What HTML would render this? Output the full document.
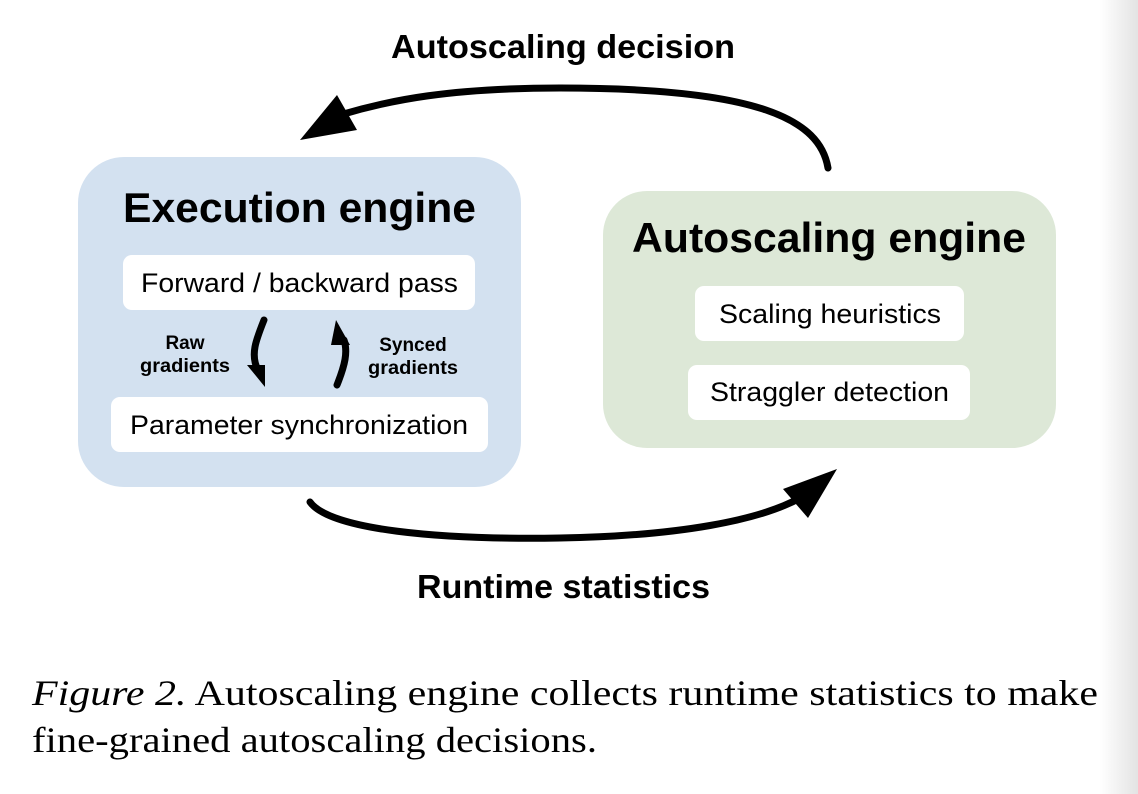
<!DOCTYPE html>
<html><head><style>
html,body{margin:0;padding:0;width:1138px;height:794px;overflow:hidden;background:#fff}
</style></head><body>
<svg width="1138" height="794" xmlns="http://www.w3.org/2000/svg" style="position:absolute;left:0;top:0">
<defs><linearGradient id="g" x1="0" x2="1"><stop offset="0" stop-color="#fff"/><stop offset="1" stop-color="#e3e3e3"/></linearGradient></defs>
<rect x="1100" y="0" width="38" height="794" fill="url(#g)"/>
<rect x="78" y="157" width="443" height="330" rx="46" fill="#d3e1f0"/>
<rect x="123" y="255" width="352" height="55" rx="9" fill="#fff"/>
<rect x="111" y="397" width="377" height="55" rx="9" fill="#fff"/>
<rect x="603" y="191" width="453" height="257" rx="44" fill="#dde8d7"/>
<rect x="695" y="286" width="269" height="55" rx="9" fill="#fff"/>
<rect x="688" y="365" width="282" height="55" rx="9" fill="#fff"/>
<g font-family="Liberation Sans, sans-serif">
<text x="123" y="222" font-size="42" font-weight="bold" textLength="353" lengthAdjust="spacingAndGlyphs">Execution engine</text>
<text x="141" y="292" font-size="27" textLength="317" lengthAdjust="spacingAndGlyphs">Forward / backward pass</text>
<text x="130" y="434" font-size="27" textLength="338" lengthAdjust="spacingAndGlyphs">Parameter synchronization</text>
<text x="185" y="349" font-size="19" font-weight="bold" text-anchor="middle">Raw</text>
<text x="140" y="372" font-size="19" font-weight="bold" textLength="90" lengthAdjust="spacingAndGlyphs">gradients</text>
<text x="413" y="351" font-size="19" font-weight="bold" text-anchor="middle">Synced</text>
<text x="368" y="374" font-size="19" font-weight="bold" textLength="90" lengthAdjust="spacingAndGlyphs">gradients</text>
<text x="632" y="252" font-size="42" font-weight="bold" textLength="394" lengthAdjust="spacingAndGlyphs">Autoscaling engine</text>
<text x="719" y="323" font-size="27" textLength="222" lengthAdjust="spacingAndGlyphs">Scaling heuristics</text>
<text x="710" y="401" font-size="27" textLength="239" lengthAdjust="spacingAndGlyphs">Straggler detection</text>
<text x="391" y="58" font-size="33" font-weight="bold" textLength="344" lengthAdjust="spacingAndGlyphs">Autoscaling decision</text>
<text x="417" y="598" font-size="33" font-weight="bold" textLength="293" lengthAdjust="spacingAndGlyphs">Runtime statistics</text>
</g>
<g font-family="Liberation Serif, serif" font-size="36">
<text x="32" y="705" textLength="1066" lengthAdjust="spacingAndGlyphs"><tspan font-style="italic">Figure 2.</tspan> Autoscaling engine collects runtime statistics to make</text>
<text x="32" y="752" textLength="565" lengthAdjust="spacingAndGlyphs">fine-grained autoscaling decisions.</text>
</g>
<g fill="none" stroke="#000" stroke-width="7" stroke-linecap="round">
<path d="M828 168 C820 120 760 88 560 88 C450 88 390 100 340 115"/>
<path d="M310 502 C330 530 440 540 560 538 C680 536 760 520 800 498"/>
<path d="M264 320 C256 340 250 355 258 370"/>
<path d="M337 385 C345 365 348 352 344 340"/>
</g>
<polygon points="300,140 337,95 357,130" fill="#000"/>
<polygon points="837,469 783,489 808,518" fill="#000"/>
<polygon points="265,387 247,365 265,365" fill="#000"/>
<polygon points="336,320 350,345 331,345" fill="#000"/>
</svg>
</body></html>
